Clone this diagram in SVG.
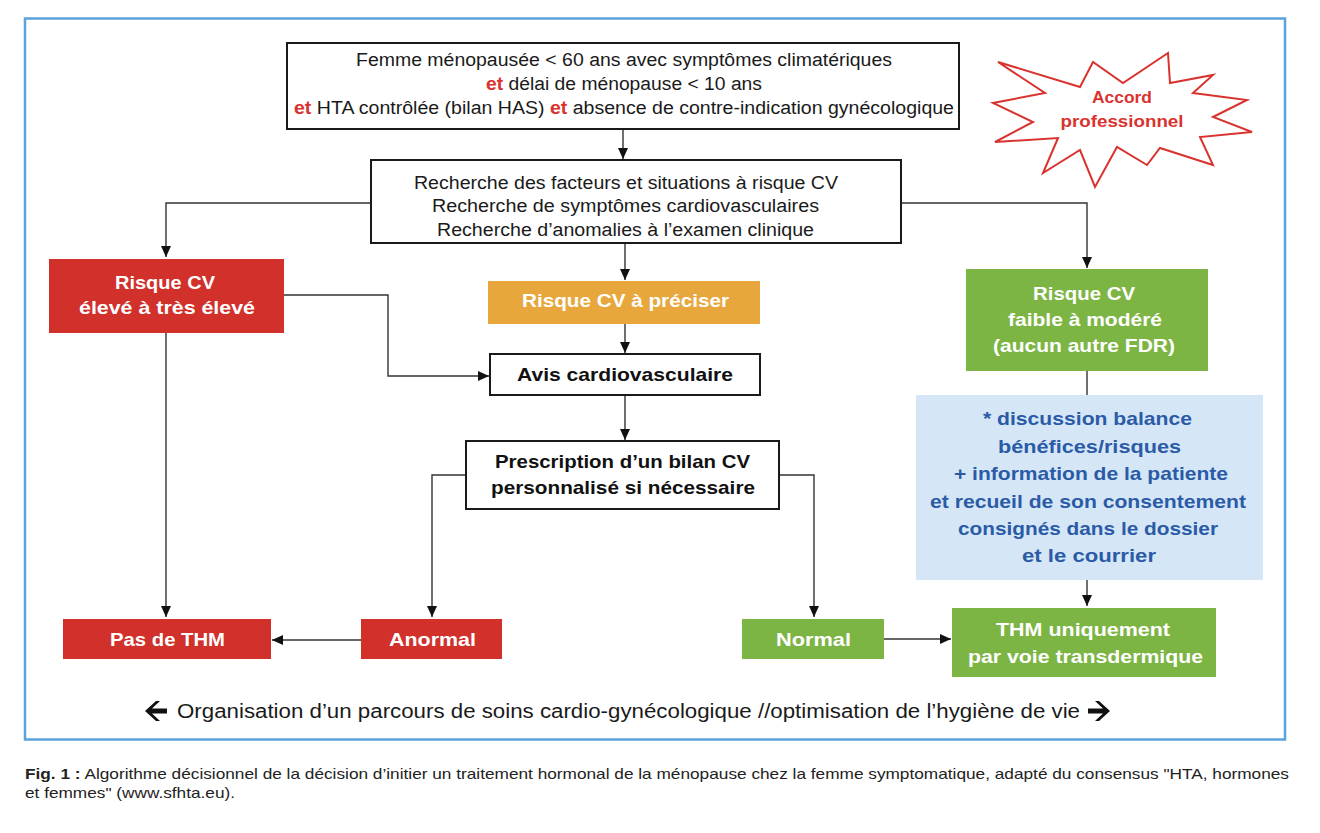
<svg xmlns="http://www.w3.org/2000/svg" width="1320" height="833" viewBox="0 0 1320 833">
<style>
text{font-family:"Liberation Sans",Arial,sans-serif;text-anchor:middle}
.n{font-size:18px;fill:#1a1a1a}
.b{font-size:19px;font-weight:bold}
.w{fill:#ffffff}
.k{fill:#111111}
.bl{fill:#2b5ba6}
.r{fill:#d9332f}
.box{fill:#ffffff;stroke:#1a1a1a;stroke-width:2}
.red{fill:#d1302b}
.grn{fill:#7db544}
.org{fill:#e8a73c}
.lbl{fill:#d5e7f7}
.c{fill:none;stroke:#333333;stroke-width:1.4}
.cap{font-size:14.5px;fill:#222222;text-anchor:start}
</style>
<defs>
<marker id="ah" markerUnits="userSpaceOnUse" markerWidth="12" markerHeight="12" viewBox="0 0 12 12" refX="11" refY="6" orient="auto">
<path d="M0,1 L11,6 L0,11 Z" fill="#111111"/>
</marker>
</defs>
<rect x="0" y="0" width="1320" height="833" fill="#ffffff"/>
<rect x="25" y="18.5" width="1260" height="721" fill="#ffffff" stroke="#5aa3dc" stroke-width="2.5"/>

<g id="connectors">
<line class="c" x1="623" y1="129" x2="623" y2="159" marker-end="url(#ah)"/>
<polyline class="c" points="371,203 166,203 166,257" marker-end="url(#ah)"/>
<polyline class="c" points="901,203 1087,203 1087,268" marker-end="url(#ah)"/>
<line class="c" x1="625" y1="243" x2="625" y2="280" marker-end="url(#ah)"/>
<line class="c" x1="625" y1="324" x2="625" y2="353" marker-end="url(#ah)"/>
<polyline class="c" points="284,295 388,295 388,376 489,376" marker-end="url(#ah)"/>
<line class="c" x1="625" y1="395" x2="625" y2="440" marker-end="url(#ah)"/>
<polyline class="c" points="466,475 432,475 432,617" marker-end="url(#ah)"/>
<polyline class="c" points="779,475 814,475 814,617" marker-end="url(#ah)"/>
<line class="c" x1="166" y1="333" x2="166" y2="617" marker-end="url(#ah)"/>
<line class="c" x1="361" y1="640" x2="272" y2="640" marker-end="url(#ah)"/>
<line class="c" x1="884" y1="639" x2="951" y2="639" marker-end="url(#ah)"/>
<line class="c" x1="1087" y1="371" x2="1087" y2="395"/>
<line class="c" x1="1087" y1="580" x2="1087" y2="606" marker-end="url(#ah)"/>
</g>

<g id="start">
<rect class="box" x="287" y="43" width="672" height="86"/>
<text class="n" x="624" y="66" textLength="536" lengthAdjust="spacingAndGlyphs">Femme ménopausée &lt; 60 ans avec symptômes climatériques</text>
<text class="n" x="624" y="90" textLength="276" lengthAdjust="spacingAndGlyphs"><tspan class="r" font-weight="bold">et</tspan> délai de ménopause &lt; 10 ans</text>
<text class="n" x="624" y="114" textLength="660" lengthAdjust="spacingAndGlyphs"><tspan class="r" font-weight="bold">et</tspan> HTA contrôlée (bilan HAS) <tspan class="r" font-weight="bold">et</tspan> absence de contre-indication gynécologique</text>
</g>

<g id="accord">
<polygon points="1168,53 1123,83 1093,62 1080,87 998,62 1045,93 993,103 1033,122 995,142 1058,138 1043,173 1080,150 1095,187 1117,147 1147,165 1160,148 1213,165 1200,137 1252,132 1213,117 1247,100 1193,93 1213,75 1170,83" fill="#ffffff" stroke="#d9332f" stroke-width="2" stroke-linejoin="miter"/>
<text class="r" x="1122" y="103" font-size="17" font-weight="bold" textLength="60" lengthAdjust="spacingAndGlyphs">Accord</text>
<text class="r" x="1122" y="127" font-size="17" font-weight="bold" textLength="123" lengthAdjust="spacingAndGlyphs">professionnel</text>
</g>

<g id="recherche">
<rect class="box" x="371" y="160" width="530" height="83"/>
<text class="n" x="626" y="189" textLength="424" lengthAdjust="spacingAndGlyphs">Recherche des facteurs et situations à risque CV</text>
<text class="n" x="625.5" y="212" textLength="387" lengthAdjust="spacingAndGlyphs">Recherche de symptômes cardiovasculaires</text>
<text class="n" x="625.5" y="236" textLength="377" lengthAdjust="spacingAndGlyphs">Recherche d’anomalies à l’examen clinique</text>
</g>

<g id="risque-eleve">
<rect class="red" x="49" y="259" width="235" height="74"/>
<text class="b w" x="165" y="289" textLength="100" lengthAdjust="spacingAndGlyphs">Risque CV</text>
<text class="b w" x="167" y="314" textLength="176" lengthAdjust="spacingAndGlyphs">élevé à très élevé</text>
</g>

<g id="risque-preciser">
<rect class="org" x="488" y="281" width="272" height="43"/>
<text class="b w" x="625.5" y="307" textLength="207" lengthAdjust="spacingAndGlyphs">Risque CV à préciser</text>
</g>

<g id="avis">
<rect class="box" x="490" y="354" width="270" height="41"/>
<text class="b k" x="625" y="381" textLength="216" lengthAdjust="spacingAndGlyphs">Avis cardiovasculaire</text>
</g>

<g id="prescription">
<rect class="box" x="466" y="441" width="313" height="68"/>
<text class="b k" x="622.5" y="468" textLength="255" lengthAdjust="spacingAndGlyphs">Prescription d’un bilan CV</text>
<text class="b k" x="623" y="494" textLength="264" lengthAdjust="spacingAndGlyphs">personnalisé si nécessaire</text>
</g>

<g id="risque-faible">
<rect class="grn" x="966" y="269" width="242" height="102"/>
<text class="b w" x="1084" y="300" textLength="102" lengthAdjust="spacingAndGlyphs">Risque CV</text>
<text class="b w" x="1085" y="326" textLength="154" lengthAdjust="spacingAndGlyphs">faible à modéré</text>
<text class="b w" x="1084" y="352" textLength="182" lengthAdjust="spacingAndGlyphs">(aucun autre FDR)</text>
</g>

<g id="discussion">
<rect class="lbl" x="916" y="395" width="347" height="185"/>
<text class="b bl" x="1087.5" y="425" textLength="209" lengthAdjust="spacingAndGlyphs">* discussion balance</text>
<text class="b bl" x="1089.5" y="453" textLength="183" lengthAdjust="spacingAndGlyphs">bénéfices/risques</text>
<text class="b bl" x="1091" y="480" textLength="274" lengthAdjust="spacingAndGlyphs">+ information de la patiente</text>
<text class="b bl" x="1088" y="508" textLength="316" lengthAdjust="spacingAndGlyphs">et recueil de son consentement</text>
<text class="b bl" x="1088" y="535" textLength="260" lengthAdjust="spacingAndGlyphs">consignés dans le dossier</text>
<text class="b bl" x="1089" y="562" textLength="134" lengthAdjust="spacingAndGlyphs">et le courrier</text>
</g>

<g id="pas-thm">
<rect class="red" x="63" y="619" width="208" height="40"/>
<text class="b w" x="167.5" y="646" textLength="115" lengthAdjust="spacingAndGlyphs">Pas de THM</text>
</g>

<g id="anormal">
<rect class="red" x="361" y="619" width="141" height="40"/>
<text class="b w" x="432.5" y="646" textLength="87" lengthAdjust="spacingAndGlyphs">Anormal</text>
</g>

<g id="normal">
<rect class="grn" x="742" y="619" width="142" height="40"/>
<text class="b w" x="813.5" y="646" textLength="75" lengthAdjust="spacingAndGlyphs">Normal</text>
</g>

<g id="thm-transdermique">
<rect class="grn" x="952" y="608" width="264" height="69"/>
<text class="b w" x="1083" y="636" textLength="174" lengthAdjust="spacingAndGlyphs">THM  uniquement</text>
<text class="b w" x="1085.5" y="663" textLength="235" lengthAdjust="spacingAndGlyphs">par voie transdermique</text>
</g>

<g id="parcours">
<polygon points="145,711 156,701 160,701 152,708.5 167,708.5 167,713.5 152,713.5 160,721 156,721" fill="#111111"/>
<text x="628.5" y="718" font-size="20" fill="#1a1a1a" textLength="903" lengthAdjust="spacingAndGlyphs">Organisation d’un parcours de soins cardio-gynécologique //optimisation de l’hygiène de vie</text>
<polygon points="1110,711 1099,701 1095,701 1103,708.5 1088,708.5 1088,713.5 1103,713.5 1095,721 1099,721" fill="#111111"/>
</g>

<g id="caption">
<text class="cap" x="25" y="779" textLength="1264" lengthAdjust="spacingAndGlyphs"><tspan font-weight="bold">Fig. 1 :</tspan> Algorithme décisionnel de la décision d’initier un traitement hormonal de la ménopause chez la femme symptomatique, adapté du consensus "HTA, hormones</text>
<text class="cap" x="25" y="798" textLength="210" lengthAdjust="spacingAndGlyphs">et femmes" (www.sfhta.eu).</text>
</g>
</svg>
